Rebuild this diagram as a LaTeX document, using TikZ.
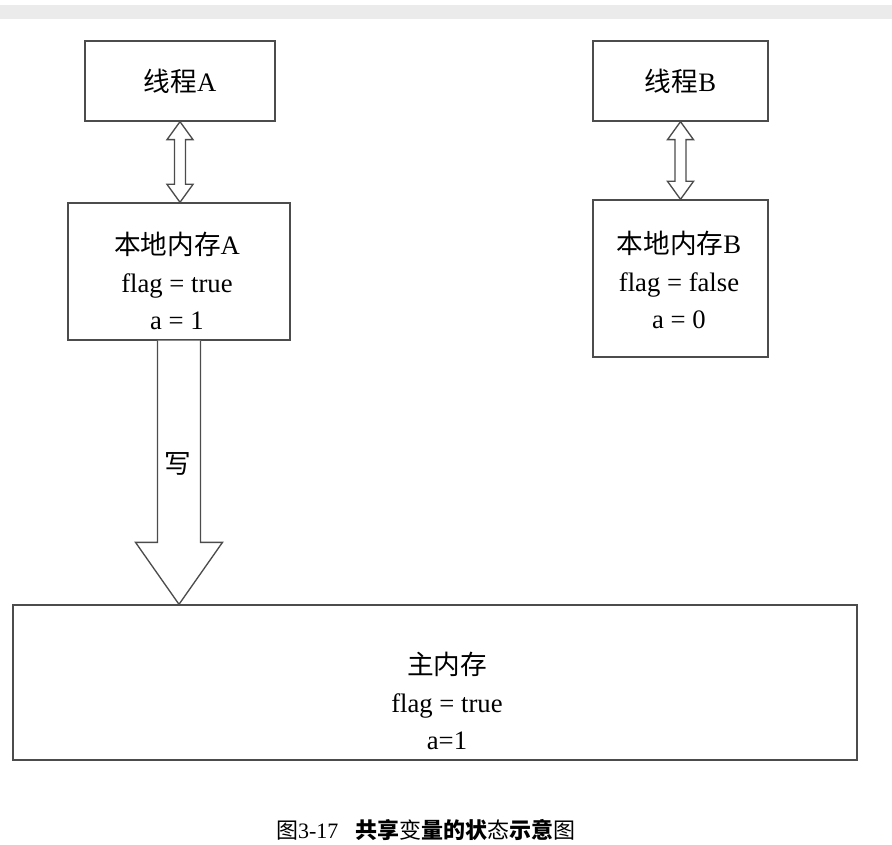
\documentclass[tikz,border=0pt]{standalone}
\usepackage{fontspec}
\setmainfont{Liberation Serif}
\newfontfamily\cjk{Noto Sans CJK SC}
\usepackage{tikz}
\usetikzlibrary{calc}

\tikzset{
	box/.style={draw=black!70,line width=1pt,fill=white,inner sep=0pt,font=\fontsize{20}{28}\selectfont},
	txt/.style={align=center,inner sep=0pt,font=\fontsize{20}{28}\selectfont},
	hollow/.style={draw=black!70,line width=1pt,fill=white,line join=miter}
}

\begin{document}
\begin{tikzpicture}[x=0.75pt,y=-0.75pt]
			\useasboundingbox (0,0) rectangle (892,845);
			\fill[black!8] (0,5) rectangle (892,19);

				% threads
				\node[box,minimum width=142.5pt,minimum height=60pt] (thrA) at(180,81){{\cjk 线程}A};
				\node[box,minimum width=131.25pt,minimum height=60pt] (thrB) at(680.5,81){{\cjk 线程}B};

				% local memories
				\node[box,minimum width=166.5pt,minimum height=102.75pt] (memA) at(179,271.5){};
				\node[txt] (memAtxt) at(177,281){{\cjk 本地内存}A\\flag = true\\a = 1};
				\node[box,minimum width=131.25pt,minimum height=117.75pt] (memB) at(680.5,278.5){};
				\node[txt] (memBtxt) at(679,280){{\cjk 本地内存}B\\flag = false\\a = 0};

				% main memory
				\node[box,minimum width=633pt,minimum height=116.25pt] (main) at(435,682.5){};
				\node[txt] (maintxt) at(447,701){{\cjk 主内存}\\flag = true\\a=1};

				\coordinate (tipA) at (thrA.south |- memA.north);
				\coordinate (tipB) at (thrB.south |- memB.north);
				\coordinate (tipW) at (memA.south |- main.north);

				\draw[hollow] (thrA.south) -- ++(13,18) -- ++(-7.5,0) -- ($(tipA)+(5.5,-18)$) -- ++(7.5,0) -- (tipA) -- ++(-13,-18) -- ++(7.5,0) -- ($(thrA.south)+(-5.5,18)$) -- ++(-7.5,0) -- cycle;
				\draw[hollow] (thrB.south) -- ++(13,18) -- ++(-7.5,0) -- ($(tipB)+(5.5,-18)$) -- ++(7.5,0) -- (tipB) -- ++(-13,-18) -- ++(7.5,0) -- ($(thrB.south)+(-5.5,18)$) -- ++(-7.5,0) -- cycle;

				% write arrow
				\draw[hollow] ($(memA.south)+(-21.5,0)$) -- ($(tipW)+(-21.5,-62)$) -- ++(-22,0) -- (tipW) -- ++(43.5,-62) -- ++(-22,0) -- ($(memA.south)+(21.5,0)$);
				\node[txt] (write) at(178,464){\cjk 写};

				\node[font=\fontsize{16.5}{20}\selectfont] (caption) at(426,830){{\cjk 图}3-17\hspace{0.8em}{\cjk\bfseries 共享}{\cjk 变}{\cjk\bfseries 量的状}{\cjk 态}{\cjk\bfseries 示意}{\cjk 图}};
		\end{tikzpicture}
\end{document}
